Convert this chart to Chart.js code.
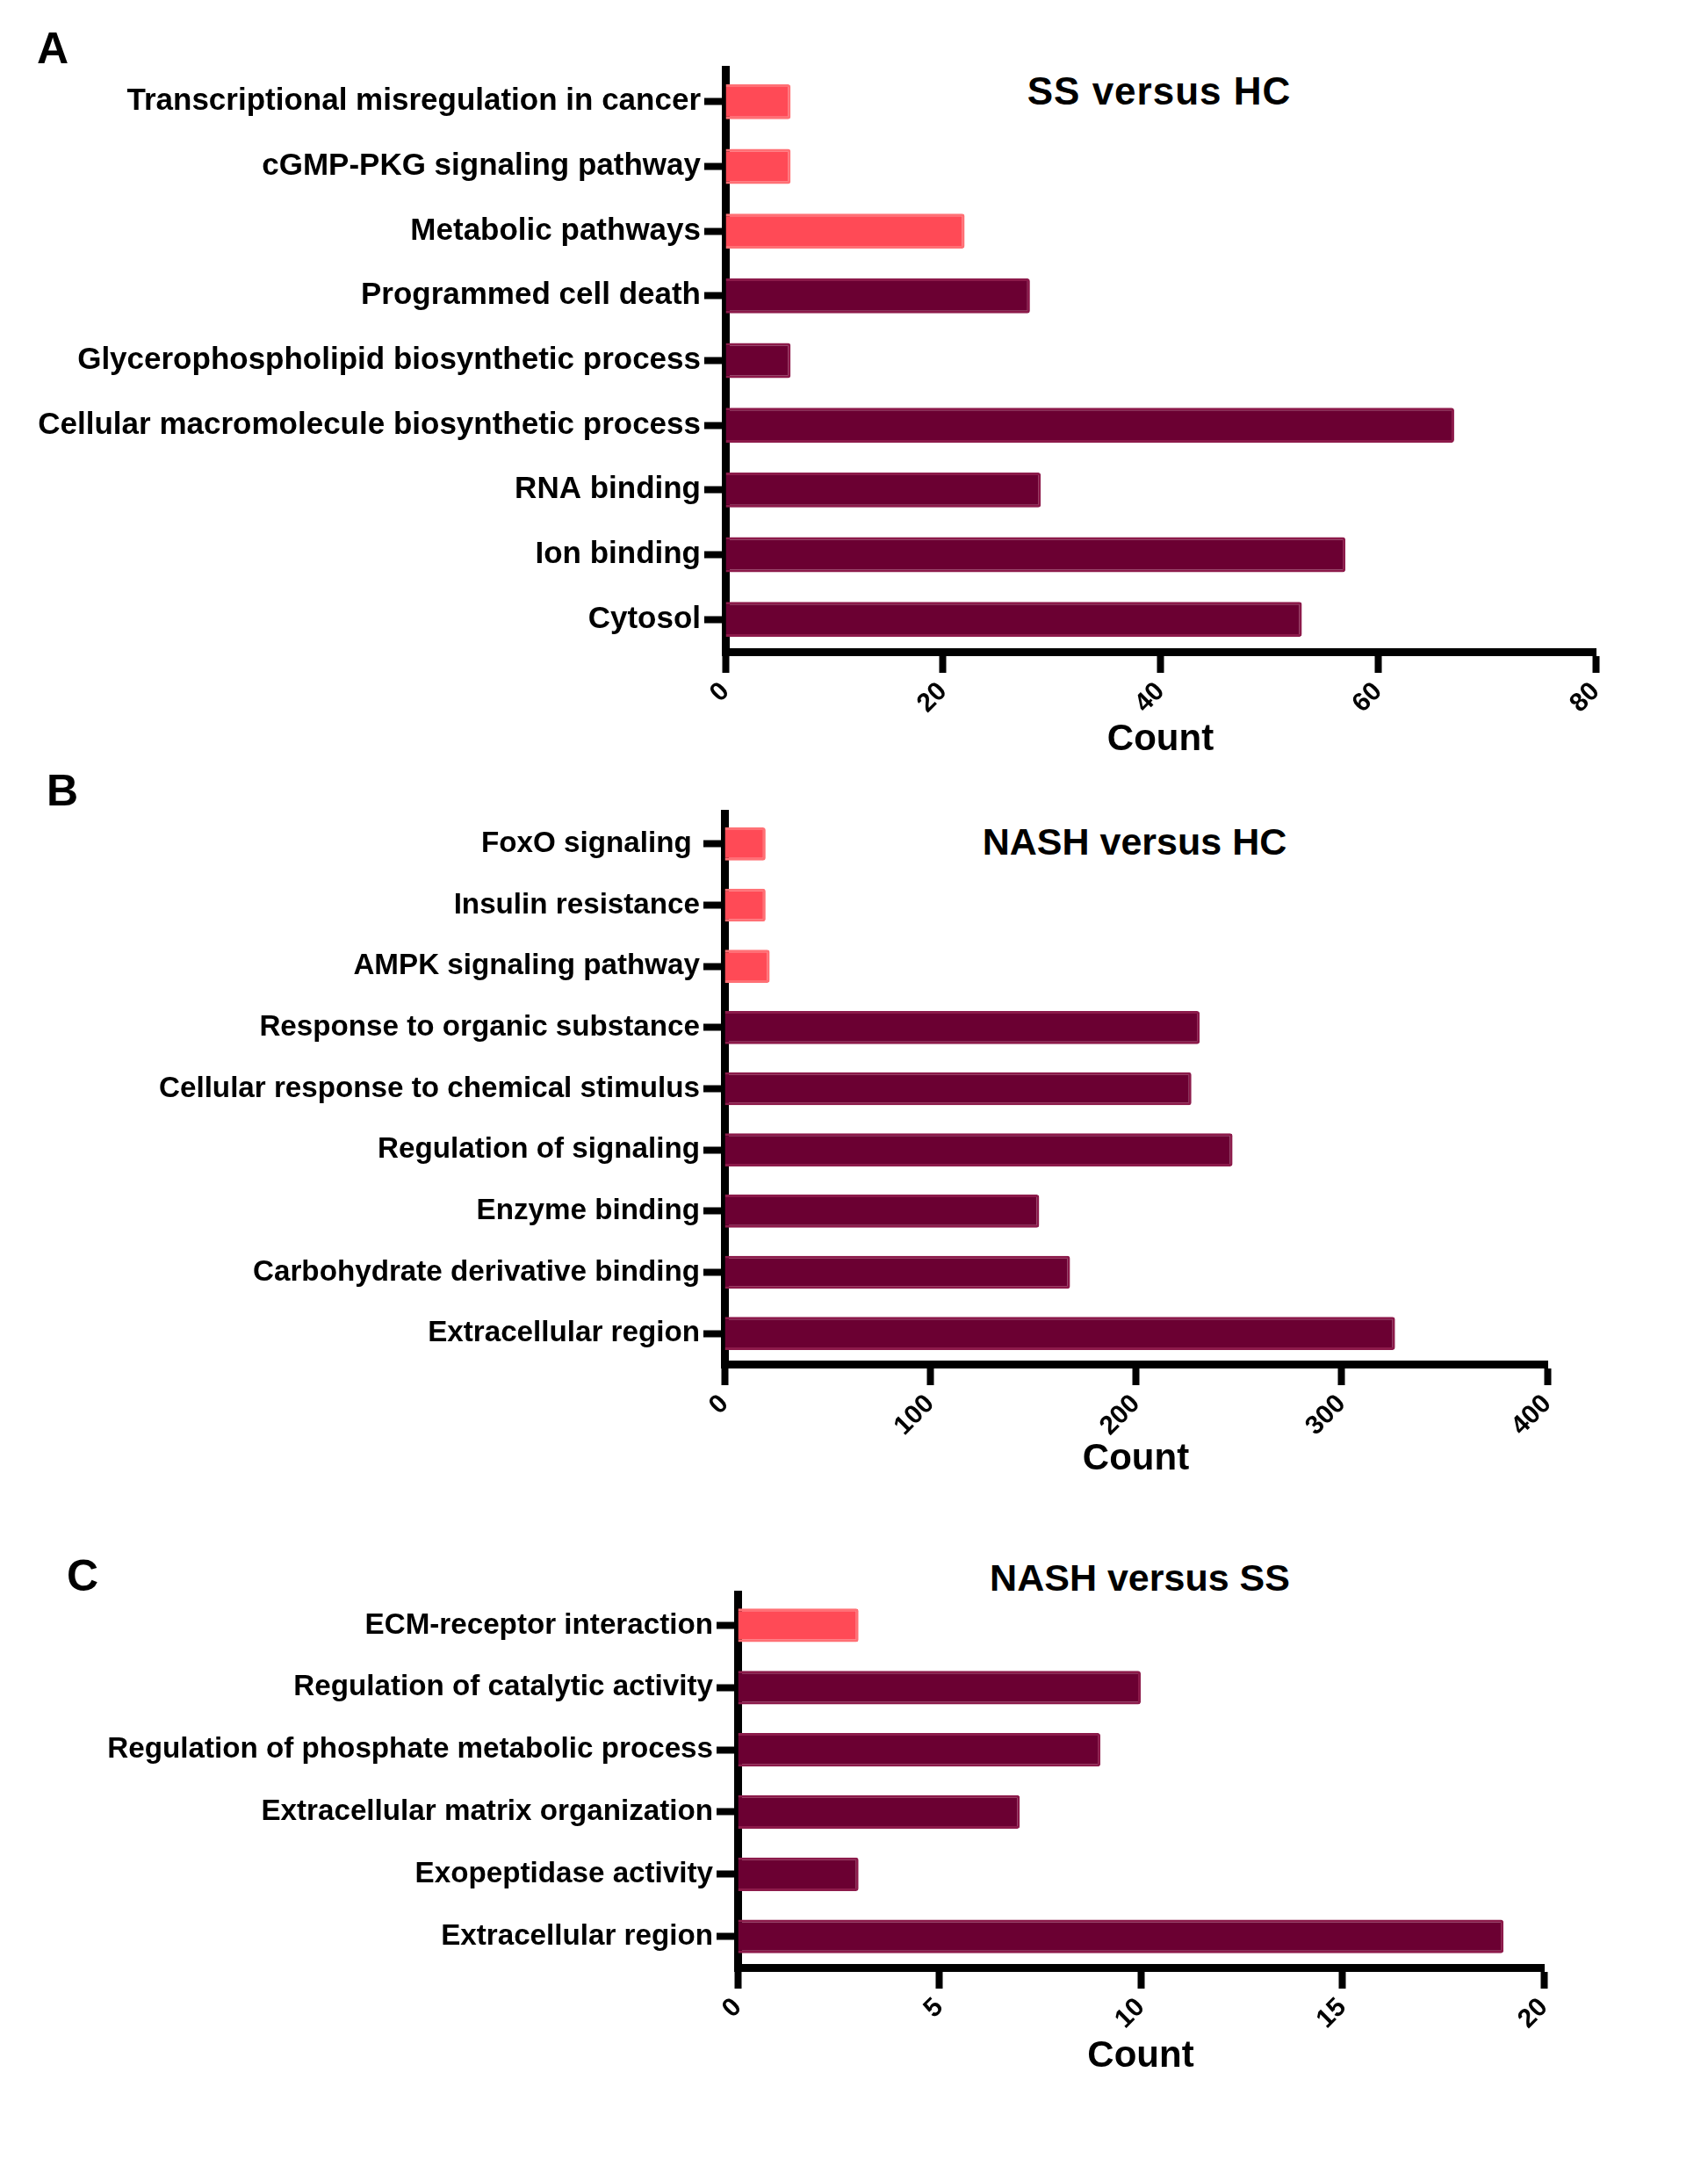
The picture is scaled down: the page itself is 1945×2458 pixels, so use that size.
<!DOCTYPE html>
<html>
<head>
<meta charset="utf-8">
<script src="https://cdn.jsdelivr.net/npm/chart.js@4.4.1/dist/chart.umd.min.js"></script>
<style>
  body { margin: 0; background: #fff; width: 1945px; height: 2458px; position: relative; overflow: hidden; }
  canvas { position: absolute; left: 0; }
  .txt { position: absolute; font-family: 'Liberation Sans', Arial, sans-serif; font-weight: bold; color: #000; transform: translate(-50%, -50%); white-space: nowrap; }
  .letter { font-size: 50px; }
  .title { font-size: 44px; }
</style>
</head>
<body>
<div class="txt letter" style="left:60px; top:55px;">A</div>
<div class="txt letter" style="left:71px; top:900px;">B</div>
<div class="txt letter" style="left:94px; top:1794px;">C</div>
<div class="txt title" style="left:1320px; top:104px; letter-spacing:1px;">SS versus HC</div>
<div class="txt title" style="left:1292px; top:958px; font-size:43px;">NASH versus HC</div>
<div class="txt title" style="left:1298px; top:1796px; font-size:43px;">NASH versus SS</div>

<canvas id="chartA" width="1945" height="880" style="top:0px;"></canvas>
<canvas id="chartB" width="1945" height="860" style="top:880px;"></canvas>
<canvas id="chartC" width="1945" height="718" style="top:1740px;"></canvas>

<script>
// Panel A: SS versus HC
const labelsA = [
    'Transcriptional misregulation in cancer',
    'cGMP-PKG signaling pathway',
    'Metabolic pathways',
    'Programmed cell death',
    'Glycerophospholipid biosynthetic process',
    'Cellular macromolecule biosynthetic process',
    'RNA binding',
    'Ion binding',
    'Cytosol'
];
const countsA = [6, 6, 22, 28, 6, 67, 29, 57, 53];
const keggA = [true, true, true, false, false, false, false, false, false];

// Panel B: NASH versus HC
const labelsB = [
    'FoxO signaling ',
    'Insulin resistance',
    'AMPK signaling pathway',
    'Response to organic substance',
    'Cellular response to chemical stimulus',
    'Regulation of signaling',
    'Enzyme binding',
    'Carbohydrate derivative binding',
    'Extracellular region'
];
const countsB = [20, 20, 22, 231, 227, 247, 153, 168, 326];
const keggB = [true, true, true, false, false, false, false, false, false];

// Panel C: NASH versus SS
const labelsC = [
    'ECM-receptor interaction',
    'Regulation of catalytic activity',
    'Regulation of phosphate metabolic process',
    'Extracellular matrix organization',
    'Exopeptidase activity',
    'Extracellular region'
];
const countsC = [3, 10, 9, 7, 3, 19];
const keggC = [true, false, false, false, false, false];

const FONT = "'Liberation Sans', Arial, sans-serif";
const DARK = '#6b0032', DARK_EDGE = '#8c1a4a';
const LIGHT = '#ff4a56', LIGHT_EDGE = '#ff7075';

function makeChart(id, labels, values, kegg, xMax, step, area, titleCenterY, labelSize) {
    const canvas = document.getElementById(id);
    const ctx = canvas.getContext('2d');
    const H = canvas.height;
    const fontTitle = 42;

    new Chart(ctx, {
        type: 'bar',
        data: {
            labels: labels,
            datasets: [{
                data: values,
                backgroundColor: kegg.map(k => k ? LIGHT : DARK),
                borderColor: kegg.map(k => k ? LIGHT_EDGE : DARK_EDGE),
                borderWidth: 3,
                borderRadius: 3,
                borderSkipped: 'left',
                barPercentage: 0.54,
                categoryPercentage: 1.0
            }]
        },
        options: {
            indexAxis: 'y',
            responsive: false,
            animation: false,
            devicePixelRatio: 1,
            layout: {
                padding: { top: area.top, right: 1945 - area.right, left: 0, bottom: 0 }
            },
            scales: {
                x: {
                    min: 0,
                    max: xMax,
                    afterFit: (scale) => { scale.height = H - area.bottom; },
                    border: { display: true, color: '#000', width: 9 },
                    grid: { drawOnChartArea: false, drawTicks: true, tickLength: 24, tickWidth: 8, tickColor: '#000' },
                    ticks: {
                        stepSize: step,
                        minRotation: 45,
                        maxRotation: 45,
                        padding: 4,
                        color: '#000',
                        font: { family: FONT, size: 30, weight: 'bold' }
                    },
                    title: {
                        display: true,
                        text: 'Count',
                        color: '#000',
                        font: { family: FONT, size: fontTitle, weight: 'bold' },
                        padding: { top: 0, bottom: (H - titleCenterY) - fontTitle * 0.6 }
                    }
                },
                y: {
                    afterFit: (scale) => { scale.width = area.left; },
                    border: { display: true, color: '#000', width: 9 },
                    grid: { offset: false, drawOnChartArea: false, drawTicks: true, tickLength: 24, tickWidth: 8, tickColor: '#000' },
                    ticks: {
                        padding: 4,
                        color: '#000',
                        font: { family: FONT, size: labelSize, weight: 'bold' }
                    }
                }
            },
            plugins: {
                legend: { display: false },
                tooltip: { enabled: false }
            }
        }
    });
}

makeChart('chartA', labelsA, countsA, keggA, 80, 20,
    { left: 826, right: 1817, top: 79, bottom: 742 }, 842, 35);
makeChart('chartB', labelsB, countsB, keggB, 400, 100,
    { left: 825, right: 1762, top: 926 - 880, bottom: 1553 - 880 }, 1661 - 880, 33.2);
makeChart('chartC', labelsC, countsC, keggC, 20, 5,
    { left: 840, right: 1758, top: 1815 - 1740, bottom: 2240 - 1740 }, 2341 - 1740, 33.2);
</script>
</body>
</html>
